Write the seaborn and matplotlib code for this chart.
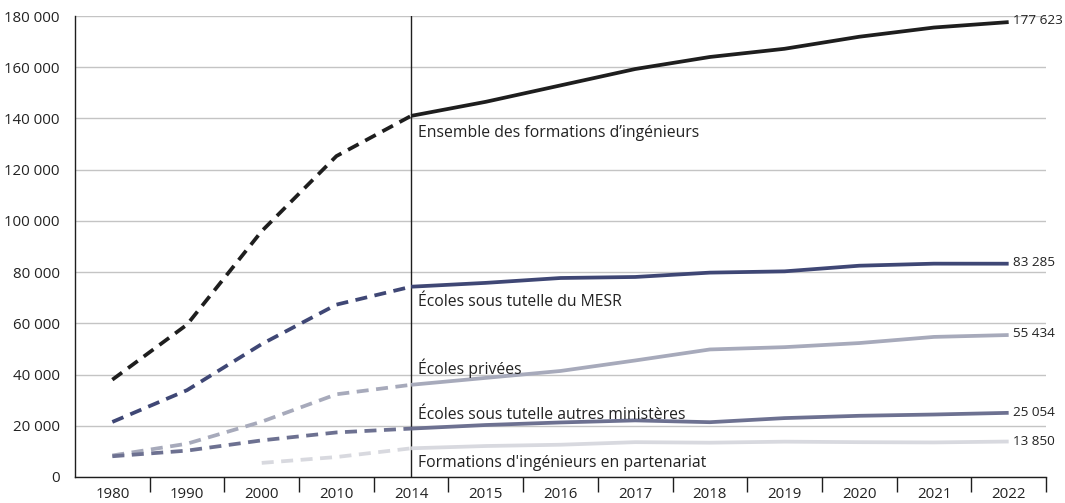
import pandas as pd
import matplotlib.pyplot as plt
import seaborn as sns
from matplotlib.ticker import FuncFormatter, FixedLocator

annees = ["1980", "1990", "2000", "2010", "2014", "2015", "2016",
          "2017", "2018", "2019", "2020", "2021", "2022"]

ensemble = [38000, 59500, 96000, 125300, 141000, 146500, 152900,
            159300, 164000, 167200, 171900, 175500, 177623]
mesr = [21500, 33900, 51900, 67300, 74300, 75800, 77700,
        78100, 79800, 80300, 82500, 83300, 83285]
privees = [8400, 13000, 21600, 32300, 36000, 38700, 41400,
           45500, 49800, 50700, 52300, 54700, 55434]
autres = [8100, 10300, 14300, 17400, 18900, 20300, 21300,
          22100, 21400, 23000, 23900, 24400, 25054]
partenariat = [None, None, 5500, 7800, 11200, 12100, 12600,
               13600, 13400, 13800, 13600, 13500, 13850]

series = {
    "Ensemble des formations d’ingénieurs": ensemble,
    "Écoles sous tutelle du MESR": mesr,
    "Écoles privées": privees,
    "Écoles sous tutelle autres ministères": autres,
    "Formations d'ingénieurs en partenariat": partenariat,
}
couleurs = {
    "Ensemble des formations d’ingénieurs": "#1e1e1e",
    "Écoles sous tutelle du MESR": "#3f4775",
    "Écoles privées": "#a7aabb",
    "Écoles sous tutelle autres ministères": "#6d7191",
    "Formations d'ingénieurs en partenariat": "#d8d9df",
}
# positions des étiquettes de série (en unités de données)
etiquettes_y = {
    "Ensemble des formations d’ingénieurs": 134400,
    "Écoles sous tutelle du MESR": 68200,
    "Écoles privées": 42400,
    "Écoles sous tutelle autres ministères": 24300,
    "Formations d'ingénieurs en partenariat": 5600,
}
etiquettes_fin = {
    "Ensemble des formations d’ingénieurs": ("177 623", 178200),
    "Écoles sous tutelle du MESR": ("83 285", 83800),
    "Écoles privées": ("55 434", 56200),
    "Écoles sous tutelle autres ministères": ("25 054", 25100),
    "Formations d'ingénieurs en partenariat": ("13 850", 14000),
}

COUPURE = annees.index("2014")

lignes = []
for nom, valeurs in series.items():
    for i, v in enumerate(valeurs):
        if v is None:
            continue
        if i <= COUPURE:
            lignes.append({"serie": nom, "partie": "ancien", "x": i, "valeur": v})
        if i >= COUPURE:
            lignes.append({"serie": nom, "partie": "recent", "x": i, "valeur": v})
df = pd.DataFrame(lignes)

sns.set_theme(style="white")
plt.rcParams["font.family"] = ["Open Sans", "DejaVu Sans"]

fig = plt.figure(figsize=(10.65, 5.03), dpi=100)
ax = fig.add_axes([75 / 1065, 26 / 503, 971 / 1065, 461 / 503])

for nom in series:
    anc = df[(df["serie"] == nom) & (df["partie"] == "ancien")]
    rec = df[(df["serie"] == nom) & (df["partie"] == "recent")]
    sns.lineplot(data=anc, x="x", y="valeur", ax=ax, color=couleurs[nom],
                 lw=2.7, linestyle=(0, (3.2, 2.0)), legend=False)
    sns.lineplot(data=rec, x="x", y="valeur", ax=ax, color=couleurs[nom],
                 lw=2.7, legend=False, solid_capstyle="butt")

ax.axvline(COUPURE, ymin=0, ymax=1, color="#1e1e1e", lw=1, zorder=1)

for nom, y in etiquettes_y.items():
    ax.text(COUPURE + 0.09, y, nom, fontsize=11.3, color="#222222",
            va="center", ha="left")
for nom, (txt, y) in etiquettes_fin.items():
    ax.text(len(annees) - 1 + 0.06, y, txt, fontsize=9.7, color="#222222",
            va="center", ha="left", clip_on=False)

ax.set_xlim(-0.5, len(annees) - 0.5)
ax.set_ylim(0, 180000)
ax.set_yticks(range(0, 180001, 20000))
ax.yaxis.set_major_formatter(FuncFormatter(lambda v, p: f"{int(v):,}".replace(",", " ")))
ax.set_xticks(range(len(annees)))
ax.set_xticklabels(annees)
ax.xaxis.set_minor_locator(FixedLocator([i + 0.5 for i in range(len(annees))]))
ax.tick_params(axis="x", which="major", length=0, pad=7, labelsize=10.8, colors="#222222")
ax.tick_params(axis="x", which="minor", length=11, width=1, color="#1e1e1e", direction="out", bottom=True)
ax.tick_params(axis="y", length=0, pad=11, labelsize=10.8, colors="#222222")
ax.grid(axis="y", color="#c4c4c4", lw=1)
ax.set_axisbelow(True)
for s in ["top", "right"]:
    ax.spines[s].set_visible(False)
for s in ["left", "bottom"]:
    ax.spines[s].set_color("#1e1e1e")
    ax.spines[s].set_linewidth(1)
ax.set_xlabel("")
ax.set_ylabel("")

fig.savefig("out.png", dpi=100)
